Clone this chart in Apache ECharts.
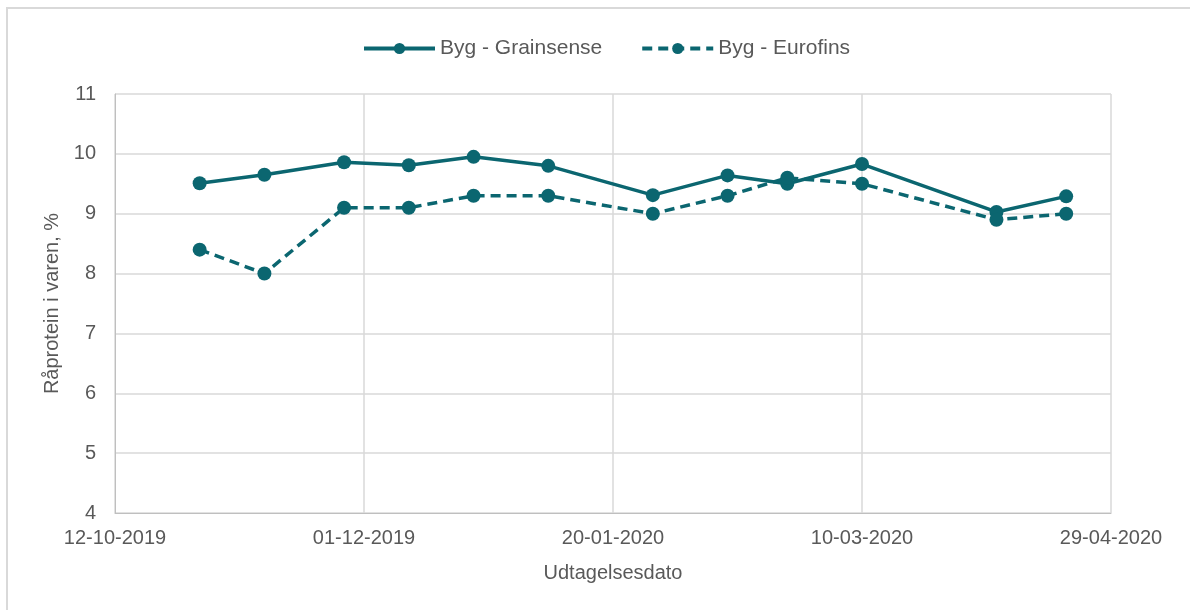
<!DOCTYPE html>
<html>
<head>
<meta charset="utf-8">
<script src="https://cdn.jsdelivr.net/npm/echarts@6/dist/echarts.min.js"></script>
<style>
html, body { margin: 0; padding: 0; background: #fff; }
#chart { width: 1190px; height: 610px; }
</style>
</head>
<body>
<div id="chart"></div>
<script>
// udtagelsesdatoer (dd-mm-yyyy)
var dates = ['29-10-2019', '11-11-2019', '27-11-2019', '10-12-2019', '23-12-2019', '07-01-2020',
    '28-01-2020', '12-02-2020', '24-02-2020', '10-03-2020', '06-04-2020', '20-04-2020'];
var grainsense = [9.51, 9.65, 9.86, 9.81, 9.95, 9.80, 9.31, 9.64, 9.50, 9.83, 9.03, 9.29];
var eurofins = [8.4, 8.0, 9.1, 9.1, 9.3, 9.3, 9.0, 9.3, 9.6, 9.5, 8.9, 9.0];
var xMin = '12-10-2019';
var xMax = '29-04-2020';

// dato -> excel serienummer (dage)
function toSerial(s) {
    var p = s.split('-');
    return Date.UTC(+p[2], +p[1] - 1, +p[0]) / 86400000 + 25569;
}
function fromSerial(n) {
    var d = new Date((n - 25569) * 86400000);
    var dd = ('0' + d.getUTCDate()).slice(-2);
    var mm = ('0' + (d.getUTCMonth() + 1)).slice(-2);
    return dd + '-' + mm + '-' + d.getUTCFullYear();
}
function pairs(vals) {
    return dates.map(function (d, i) { return [toSerial(d), vals[i]]; });
}

var teal = '#0b6670';
var textColor = '#595959';
var font = 'Liberation Sans, Arial, sans-serif';

var chart = echarts.init(document.getElementById('chart'));
var option = {
    backgroundColor: '#fff',
    animation: false,
    textStyle: { fontFamily: font },
    graphic: [{
        type: 'polyline',
        shape: { points: [[7, 610], [7, 8], [1190, 8]] },
        style: { stroke: '#d9d9d9', lineWidth: 2, fill: null }
    }],
    legend: {
        top: 33,
        left: 357,
        itemWidth: 71,
        itemHeight: 14,
        itemGap: 38,
        lineStyle: { width: 4 },
        textStyle: { color: textColor, fontSize: 21, fontFamily: font },
        data: ['Byg - Grainsense', 'Byg - Eurofins']
    },
    grid: {
        left: 115,
        right: 79,
        top: 94,
        bottom: 97
    },
    xAxis: {
        type: 'value',
        min: toSerial(xMin),
        max: toSerial(xMax),
        interval: 50,
        name: 'Udtagelsesdato',
        nameLocation: 'middle',
        nameGap: 50,
        nameTextStyle: { color: textColor, fontSize: 20 },
        axisLine: { show: true, lineStyle: { color: '#bfbfbf', width: 1 } },
        axisTick: { show: false },
        axisLabel: {
            color: textColor,
            fontSize: 20,
            margin: 15,
            formatter: function (v) { return fromSerial(v); }
        },
        splitLine: { show: true, lineStyle: { color: '#d9d9d9', width: 1.5 } }
    },
    yAxis: {
        type: 'value',
        min: 4,
        max: 11,
        interval: 1,
        name: 'Råprotein i varen, %',
        nameLocation: 'middle',
        nameGap: 53,
        nameTextStyle: { color: textColor, fontSize: 20 },
        axisLine: { show: true, lineStyle: { color: '#bfbfbf', width: 1 } },
        axisTick: { show: false },
        axisLabel: { color: textColor, fontSize: 20, margin: 19 },
        splitLine: { show: true, lineStyle: { color: '#d9d9d9', width: 1.5 } }
    },
    series: [{
        name: 'Byg - Grainsense',
        type: 'line',
        data: pairs(grainsense),
        symbol: 'circle',
        symbolSize: 14,
        itemStyle: { color: teal },
        lineStyle: { color: teal, width: 3.5 }
    }, {
        name: 'Byg - Eurofins',
        type: 'line',
        data: pairs(eurofins),
        symbol: 'circle',
        symbolSize: 14,
        itemStyle: { color: teal },
        lineStyle: { color: teal, width: 3.5, type: [10, 6] }
    }]
};
chart.setOption(option);
</script>
</body>
</html>
